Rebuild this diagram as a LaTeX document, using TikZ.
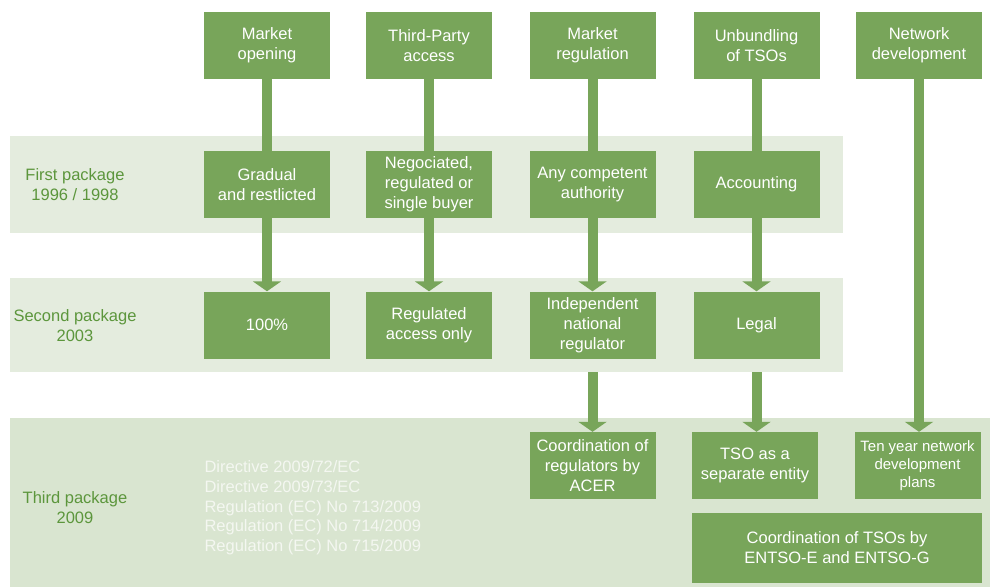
\documentclass[tikz,border=0pt]{standalone}
\usepackage{fontspec}
\setmainfont{Liberation Sans}
\usetikzlibrary{arrows.meta}

\definecolor{boxgreen}{RGB}{120,165,90}
\definecolor{bandlight}{RGB}{228,236,222}
\definecolor{banddark}{RGB}{217,229,208}
\definecolor{pkggreen}{RGB}{92,150,60}
\definecolor{lawtext}{RGB}{244,247,241}

\begin{document}
\begin{tikzpicture}[x=1pt,y=-1pt,
    box/.style={fill=boxgreen,text=white,minimum width=126pt,minimum height=67pt,
        inner sep=0pt,align=center,font=\fontsize{16.5}{20}\selectfont},
    band/.style={anchor=north west,inner sep=0pt},
    pkg/.style={text=pkggreen,align=center,font=\fontsize{16.5}{20}\selectfont},
    link/.style={draw=boxgreen,line width=10pt},
    arr/.style={link,-{Triangle[width=28pt,length=10pt]}}]
    \useasboundingbox (0,0) rectangle (990,587);

    % package bands
    \node[band,fill=bandlight,minimum width=833pt,minimum height=97pt] (band1) at (10,136) {};
    \node[band,fill=bandlight,minimum width=833pt,minimum height=94pt] (band2) at (10,278) {};
    \node[band,fill=banddark,minimum width=980pt,minimum height=169pt] (band3) at (10,418) {};

    \node[pkg] (pk1) at (75,185) {First package\\1996 / 1998};
    \node[pkg] (pk2) at (75,326) {Second package\\2003};
    \node[pkg] (pk3) at (75,508) {Third package\\2009};

    \node[anchor=west,text=lawtext,align=left,font=\fontsize{16.5}{19.7}\selectfont] (laws) at (201,508)
        {Directive 2009/72/EC\\Directive 2009/73/EC\\Regulation (EC) No 713/2009\\Regulation (EC) No 714/2009\\Regulation (EC) No 715/2009};

    % topics
    \node[box] (a1) at (267,45.5) {Market\\opening};
    \node[box] (a2) at (429,45.5) {Third-Party\\access};
    \node[box] (a3) at (592.5,45.5) {Market\\regulation};
    \node[box] (a4) at (756.5,45.5) {Unbundling\\of TSOs};
    \node[box] (a5) at (919,45.5) {Network\\development};

    % first package
    \node[box] (b1) at (267,184.5) {Gradual\\and restlicted};
    \node[box] (b2) at (429,184.5) {Negociated,\\regulated or\\single buyer};
    \node[box] (b3) at (592.5,184.5) {Any competent\\authority};
    \node[box] (b4) at (756.5,184.5) {Accounting};

    % second package
    \node[box] (c1) at (267,325) {100\%};
    \node[box] (c2) at (429,325) {Regulated\\access only};
    \node[box] (c3) at (592.5,325) {Independent\\national\\regulator};
    \node[box] (c4) at (756.5,325) {Legal};

    % third package
    \node[box] (d3) at (592.5,465.5) {Coordination of\\regulators by\\ACER};
    \node[box] (d4) at (755,465.5) {TSO as a\\separate entity};
    \node[box,font=\fontsize{15}{18}\selectfont] (d5) at (917.5,465.5) {Ten year network\\development\\plans};
    \node[box,minimum width=290pt,minimum height=70pt] (e4) at (837,548) {Coordination of TSOs by\\ENTSO-E and ENTSO-G};

    \foreach \i in {1,...,4} {
        \draw[link] (a\i) -- (b\i);
        \draw[arr] (b\i) -- (c\i);
    }
    \draw[arr] (c3 |- band2.south) -- (d3);
    \draw[arr] (c4 |- band2.south) -- (d4.north -| c4);
    \draw[arr] (a5) -- (a5 |- d5.north);
\end{tikzpicture}
\end{document}
